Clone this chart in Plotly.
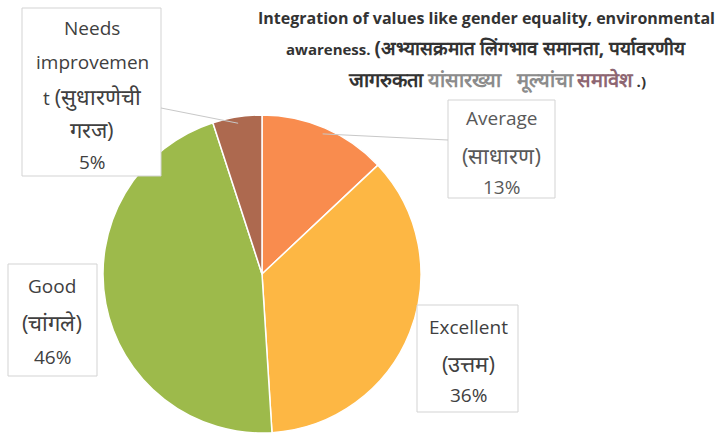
import math
import plotly.graph_objects as go

# ---------------- data ----------------
categories = ["Average (साधारण)", "Excellent (उत्तम)", "Good (चांगले)",
              "Needs improvement (सुधारणेची गरज)"]
values = [13, 36, 46, 5]
label_lines = [["Average", "(साधारण)"],
               ["Excellent", "(उत्तम)"],
               ["Good", "(चांगले)"],
               ["Needs", "improvemen", "t (सुधारणेची", "गरज)"]]
colors = ["#F98C4E", "#FDB744", "#9DBA4B", "#AD694F"]

# ---------------- layout constants (pixels) ----------------
W, H = 716, 443
CX, CY, R = 262, 274, 159          # pie centre / radius
FONT = "'Open Sans', Lato, sans-serif"
TXT = "#404040"
DEV = 22                            # devanagari size in labels
LAT = 19                            # latin size in labels

boxes = [
    dict(rect=(448, 100, 555, 198), ys=[118, 155, 187], cx=501, leader=(448, 140), col="#595959"),
    dict(rect=(417, 305, 518, 412), ys=[327, 363, 395], cx=468, leader=None, col=TXT),
    dict(rect=(8, 264, 97, 376), ys=[286, 322, 357], cx=52, leader=None, col=TXT),
    dict(rect=(22, 8, 161, 176), ys=[28, 62, 96, 129, 162], cx=92, leader=(161, 108), col=TXT),
]


def px(x):
    return x / W


def py(y):
    return 1 - y / H


def is_dev(s):
    return any('\u0900' <= ch <= '\u097F' for ch in s)


fig = go.Figure(go.Pie(
    labels=categories, values=values, sort=False, direction="clockwise",
    rotation=0, textinfo="none", hoverinfo="label+percent",
    marker=dict(colors=colors, line=dict(color="white", width=1.5)),
    domain=dict(x=[px(CX - R), px(CX + R)], y=[py(CY + R), py(CY - R)]),
    showlegend=False,
))

annotations = []
shapes = []
total = sum(values)
cum = 0
for i, v in enumerate(values):
    b = boxes[i]
    mid = (cum + v / 2) / total * 2 * math.pi
    cum += v
    l, t, r, btm = b["rect"]
    shapes.append(dict(type="rect", xref="paper", yref="paper",
                       x0=px(l), x1=px(r), y0=py(btm), y1=py(t),
                       line=dict(color="#D3D3D3", width=1), fillcolor="white",
                       layer="above"))
    if b["leader"]:
        ex = CX + R * 0.96 * math.sin(mid)
        ey = CY - R * 0.96 * math.cos(mid)
        sx, sy = b["leader"]
        shapes.append(dict(type="line", xref="paper", yref="paper",
                           x0=px(sx), y0=py(sy), x1=px(ex), y1=py(ey),
                           line=dict(color="#C8C8C8", width=1)))
    lines = label_lines[i] + [f"{v}%"]
    for txt, yy in zip(lines, b["ys"]):
        if is_dev(txt) and txt.startswith("t ("):
            txt = f"t <span style='font-size:{DEV}px'>(सुधारणेची</span>"
            size = LAT
        else:
            size = DEV if is_dev(txt) else LAT
        annotations.append(dict(text=txt, x=px(b["cx"]), y=py(yy), xref="paper",
                                yref="paper", showarrow=False, xanchor="center",
                                yanchor="middle",
                                font=dict(family=FONT, size=size, color=b["col"])))

# title (three lines, mixed colours)
D = "font-size:19px"
D3 = "font-size:20px"
title_lines = [
    ("<b>Integration of values like gender equality, environmental</b>", 18, 16),
    (f"<b>awareness. <span style='{D}'>(अभ्यासक्रमात लिंगभाव समानता, पर्यावरणीय</span></b>", 48, 15),
    (f"<b><span style='{D3}'>जागरुकता </span><span style='{D3};color:#8C8C8C'>यांसारख्या&nbsp;&nbsp;&nbsp;मूल्यांचा</span> "
     f"<span style='{D3};color:#8E6672'>समावेश</span> .)</b>", 80, 15),
]
for txt, yy, fs in title_lines:
    annotations.append(dict(text=txt, x=px(497), y=py(yy), xref="paper", yref="paper",
                            showarrow=False, xanchor="center", yanchor="middle",
                            font=dict(family=FONT, size=fs, color="#333333")))
annotations[-3]["x"] = px(486)
annotations[-2]["x"] = px(486)

fig.update_layout(width=W, height=H, margin=dict(l=0, r=0, t=0, b=0),
                  paper_bgcolor="white", plot_bgcolor="white",
                  annotations=annotations, shapes=shapes)
fig.write_html("out.html", config={"displayModeBar": False},
               post_script="document.body.style.margin='0';")
